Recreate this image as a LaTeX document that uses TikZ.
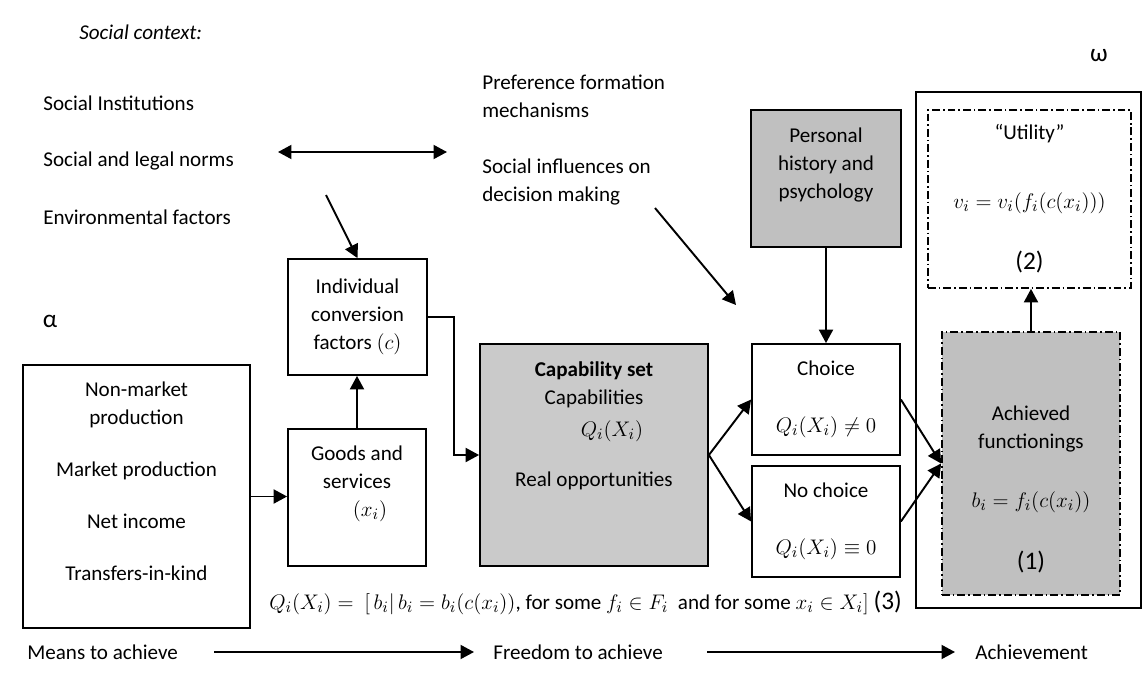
\documentclass[tikz,border=0pt,12pt]{standalone}
\usepackage{fontspec}
\setmainfont{Carlito}
\linespread{1.1}
\DeclareMathSizes{12}{13}{9}{7}
\usetikzlibrary{arrows.meta, positioning}
\definecolor{boxgray}{RGB}{192,192,192}
\definecolor{capgray}{RGB}{202,202,202}
\def\pu{0.02cm}
\tikzset{
    box/.style = {
        draw, rectangle, line width=1pt, align=center, inner sep=0pt
    },
    dashdot/.style = {
        draw, rectangle, line width=1pt, align=center, inner sep=0pt,
        dash pattern=on 4.5pt off 1.7pt on 0.9pt off 1.7pt
    },
    txt/.style = {align=center, inner sep=0pt},
    lbl/.style = {anchor=west, align=left, inner sep=0pt},
    conn/.style = {line width=1.1pt, -{Triangle[length=0.27cm, width=0.28cm]}},
    twoway/.style = {line width=1.1pt, {Triangle[length=0.27cm, width=0.28cm]}-{Triangle[length=0.27cm, width=0.28cm]}},
}

\begin{document}
\begin{tikzpicture}[x=\pu, y=-\pu]
    \useasboundingbox (0,0) rectangle (1147,673);

    % Social context
    \node[lbl, font=\itshape] (context) at (79,32) {Social context:};
    \node[lbl] (inst) at (43,103) {Social Institutions};
    \node[lbl] (norms) at (43,161) {Social and legal norms};
    \node[lbl] (env) at (43,217) {Environmental factors};
    \node[lbl] (pref) at (482,96) {Preference formation\\mechanisms};
    \node[lbl] (infl) at (482,182) {Social influences on\\decision making};
    \node[font=\large] (alpha) at (50,321) {α};
    \node[font=\large] (omega) at (1099,56) {ω};

    % Means
    \node[box, minimum width=227*\pu, minimum height=263*\pu] (src) at (136.5,496.5) {};
    \node[txt] (srctxt) at (136.5,481) {Non-market\\production\\[13.6pt]Market production\\[13.6pt]Net income\\[13.6pt]Transfers-in-kind};
    \node[box, minimum width=139*\pu, minimum height=116*\pu] (conv) at (357.5,317) {Individual\\conversion\\factors $(c)$};
    \node[box, minimum width=138*\pu, minimum height=137*\pu] (goods) at (357,497.5) {};
    \node[txt] (goodstxt) at (357,484) {Goods and\\services\\\hspace*{0.52cm}$(x_i)$};

    % Freedom
    \node[box, fill=capgray, minimum width=228*\pu, minimum height=222*\pu] (cap) at (594,455) {};
    \node[txt] (captxt) at (594,426) {\textbf{Capability set}\\Capabilities\\[2pt]\hspace*{0.72cm}$Q_i(X_i)$\\[13pt]Real opportunities};
    \node[box, minimum width=148*\pu, minimum height=111*\pu] (choice) at (826,399.5) {Choice\\[16.4pt]$Q_i(X_i)\neq 0$};
    \node[box, minimum width=148*\pu, minimum height=111*\pu] (nochoice) at (826,521.5) {No choice\\[16.4pt]$Q_i(X_i)\equiv 0$};
    \node[box, fill=boxgray, minimum width=150*\pu, minimum height=137*\pu] (pers) at (826,178.5) {};
    \node[txt] (perstxt) at (826,165) {Personal\\history and\\psychology};

    % Achievement
    \node[box, minimum width=225*\pu, minimum height=516*\pu] (outer) at (1028.5,350) {};
    \node[dashdot, fill=white, minimum width=203*\pu, minimum height=178*\pu] (util) at (1029.5,199) {“Utility”\\[23pt]$v_i = v_i(f_i(c(x_i)))$\\[19pt]{\large (2)}};
    \node[dashdot, fill=boxgray, minimum width=178*\pu, minimum height=263*\pu] (ach) at (1031,463.5) {};
    \node[txt] (achtxt) at (1031,489) {Achieved\\functionings\\[18pt]$b_i = f_i\big(c(x_i)\big)$\\[19pt]{\large (1)}};

    \node[lbl] (formula) at (269,603) {$Q_i(X_i) =\ [\,b_i|\,b_i = b_i\big(c(x_i)\big)$, for some $f_i \in F_i$\ \ and for some $x_i \in X_i]$ {\large (3)}};

    \node[lbl] (means) at (27,652) {Means to achieve};
    \node[lbl] (freedom) at (493,652) {Freedom to achieve};
    \node[lbl] (achieve) at (975,652) {Achievement};

    % Draw connections
    \coordinate (normsl) at (278,152);
    \coordinate (normsr) at (447,152);
    \draw[twoway] (normsl) -- (normsr);
    \coordinate (envout) at (326,195);
    \draw[conn] (envout) -- (conv.north);
    \coordinate (inflout) at (655,208);
    \coordinate (choicein) at (736,305);
    \draw[conn] (inflout) -- (choicein);
    \draw[conn] (src.east) -- (src.east -| goods.west);
    \draw[conn] (goods.north) -- (goods.north |- conv.south);
    \draw[conn] (conv.east) -- ++(26,0) |- (cap.west);
    \draw[conn] (cap.east) -- (choice.west);
    \draw[conn] (cap.east) -- (nochoice.west);
    \draw[conn] (pers.south) -- (choice.north);
    \draw[conn] (choice.east) -- (ach.west);
    \draw[conn] (nochoice.east) -- (ach.west);
    \draw[conn] (ach.north) -- (ach.north |- util.south);
    \draw[conn, shorten <=0.72cm, shorten >=0.38cm] (means.east) -- (freedom.west);
    \draw[conn, shorten <=0.88cm, shorten >=0.4cm] (freedom.east) -- (achieve.west);
\end{tikzpicture}
\end{document}
